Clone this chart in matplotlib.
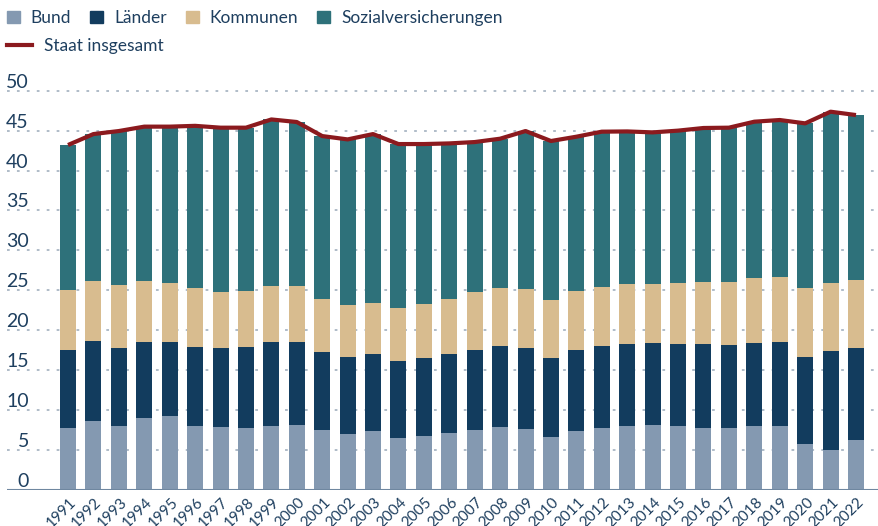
import numpy as np
import matplotlib.pyplot as plt
from matplotlib.patches import Patch
from matplotlib.lines import Line2D
import matplotlib.transforms as mtransforms

plt.rcParams['font.family'] = ['Lato', 'DejaVu Sans']

years = list(range(1991, 2023))
# cumulative tops (% of GDP)
bund_top = [7.76, 8.64, 8.01, 9.02, 9.27, 8.01, 7.89, 7.76, 8.01, 8.14,
            7.51, 7.01, 7.39, 6.51, 6.76, 7.14, 7.51, 7.89, 7.64, 6.64,
            7.39, 7.76, 8.01, 8.14, 8.01, 7.76, 7.76, 8.01, 8.01, 5.76,
            5.01, 6.26]
laender_top = [17.53, 18.66, 17.78, 18.53, 18.53, 17.90, 17.78, 17.90, 18.53, 18.53,
               17.28, 16.65, 17.03, 16.15, 16.53, 17.03, 17.53, 18.03, 17.78, 16.53,
               17.53, 18.03, 18.28, 18.41, 18.28, 18.28, 18.16, 18.41, 18.53, 16.65,
               17.40, 17.78]
kommunen_top = [25.04, 26.17, 25.67, 26.17, 25.92, 25.29, 24.79, 24.92, 25.54, 25.54,
                23.91, 23.16, 23.41, 22.79, 23.29, 23.91, 24.79, 25.29, 25.17, 23.79,
                24.92, 25.42, 25.79, 25.79, 25.92, 26.04, 26.04, 26.54, 26.67, 25.29,
                25.92, 26.29]
staat = [43.2, 44.57, 44.95, 45.5, 45.5, 45.6, 45.37, 45.37, 46.4, 46.08,
         44.32, 43.9, 44.57, 43.32, 43.32, 43.4, 43.57, 43.99, 44.95, 43.7,
         44.24, 44.87, 44.9, 44.78, 45.0, 45.33, 45.37, 46.12, 46.33, 45.91,
         47.37, 46.95]

bund = np.array(bund_top)
laender = np.array(laender_top) - np.array(bund_top)
kommunen = np.array(kommunen_top) - np.array(laender_top)
sozial = np.array(staat) - np.array(kommunen_top)

c_bund = '#8499b1'
c_laender = '#123c5e'
c_kommunen = '#d8bc8f'
c_sozial = '#2e717a'
c_line = '#8b1a1e'
c_text = '#1e3f5f'

fig = plt.figure(figsize=(8.79, 5.26), dpi=100)
ax = fig.add_axes([7 / 879, 36 / 526, 872 / 879, 399.3 / 526])

x = np.arange(len(years))
w = 0.63
ax.bar(x, bund, w, color=c_bund, zorder=2)
ax.bar(x, laender, w, bottom=bund, color=c_laender, zorder=2)
ax.bar(x, kommunen, w, bottom=bund + laender, color=c_kommunen, zorder=2)
ax.bar(x, sozial, w, bottom=bund + laender + kommunen, color=c_sozial, zorder=2)
ax.plot(x, staat, color=c_line, lw=3, zorder=3, solid_capstyle='butt')

ax.set_xlim(-2.4, 31.905)
ax.set_ylim(0, 50)

# grid + baseline
yt = list(range(5, 55, 5))
for v in yt:
    ax.axhline(v, color='#a9b6c4', lw=1.3, ls=(0, (1.5, 4)), zorder=1, clip_on=False)
ax.axhline(0, color='#6f87a0', lw=1.5, zorder=4)

for s in ax.spines.values():
    s.set_visible(False)

ax.set_yticks([])
trans = mtransforms.blended_transform_factory(ax.transAxes, ax.transData)
for v in [0] + yt:
    ax.annotate(str(v), (0.025, v), xycoords=trans, xytext=(0, 3), textcoords='offset pixels',
                ha='right', va='baseline', fontsize=14, color=c_text)

ax.set_xticks(x)
ax.set_xticklabels([str(y) for y in years], rotation=45, ha='right', va='center',
                   rotation_mode='anchor', fontsize=11, color=c_text)
ax.tick_params(axis='x', length=0, pad=7)
shift = mtransforms.ScaledTranslation(6 / 100, 0, fig.dpi_scale_trans)
for lab in ax.get_xticklabels():
    lab.set_transform(lab.get_transform() + shift)

h1 = [Patch(color=c_bund, label='Bund'), Patch(color=c_laender, label='Länder'),
      Patch(color=c_kommunen, label='Kommunen'), Patch(color=c_sozial, label='Sozialversicherungen')]
leg1 = fig.legend(handles=h1, loc='upper left', bbox_to_anchor=(0.0, 0.994), ncol=4, frameon=False,
                  fontsize=12.5, handlelength=0.75, handleheight=0.75, handletextpad=0.62,
                  columnspacing=1.1, labelcolor=c_text, borderaxespad=0)
h2 = [Line2D([], [], color=c_line, lw=3, label='Staat insgesamt')]
leg2 = fig.legend(handles=h2, loc='upper left', bbox_to_anchor=(0.0, 0.941), frameon=False,
                  fontsize=12.5, handlelength=1.45, handletextpad=0.7, labelcolor=c_text,
                  borderaxespad=0)

fig.savefig('out.png', dpi=100)
